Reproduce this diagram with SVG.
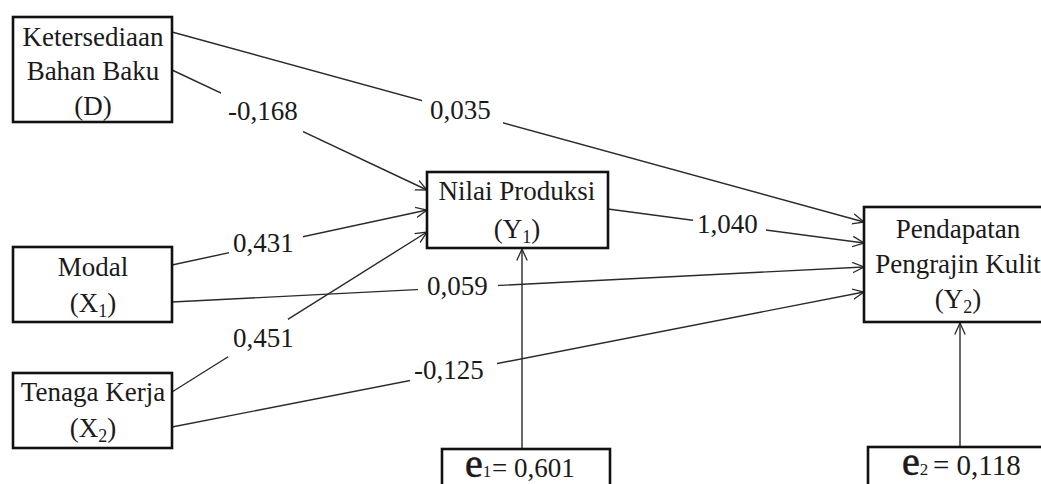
<svg xmlns="http://www.w3.org/2000/svg" width="1041" height="484" viewBox="0 0 1041 484">
<defs>
<style>
.box{fill:#fff;stroke:#111;stroke-width:2.6}
.t{font-family:"Liberation Serif","Times New Roman",serif;font-size:27px;fill:#1a1a1a}
.c{text-anchor:middle}
.sub{font-size:18px}
.ee{font-size:40px;stroke:#1a1a1a;stroke-width:0.6}
.es{font-size:17px}
.ln{stroke:#2a2a2a;stroke-width:1.4;fill:none}
.ar{marker-end:url(#arr)}
.bg{fill:#fff}
</style>
<marker id="arr" viewBox="0 0 12 12" refX="11.5" refY="6" markerWidth="12" markerHeight="12" orient="auto" markerUnits="userSpaceOnUse">
<path d="M0,0.8 L11.5,6 L0,11.2" fill="none" stroke="#2a2a2a" stroke-width="1.3"/>
</marker>
</defs>
<rect width="1041" height="484" fill="#fff"/>
<g id="connectors">
<line class="ln ar" x1="172" y1="32" x2="864" y2="222"/>
<line class="ln ar" x1="172" y1="70" x2="427" y2="190"/>
<line class="ln ar" x1="172" y1="265" x2="427" y2="210"/>
<line class="ln ar" x1="172" y1="392" x2="427" y2="232"/>
<line class="ln ar" x1="172" y1="302" x2="864" y2="267"/>
<line class="ln ar" x1="172" y1="427" x2="864" y2="292"/>
<line class="ln ar" x1="608" y1="209" x2="864" y2="243"/>
<line class="ln ar" x1="522" y1="449" x2="522" y2="249"/>
<line class="ln ar" x1="960" y1="447" x2="960" y2="323"/>
<g id="labels">
<rect class="bg" x="422" y="96" width="81" height="28"/>
<text class="t" x="430" y="119">0,035</text>
<rect class="bg" x="221" y="92" width="82" height="41"/>
<text class="t" x="228" y="120">-0,168</text>
<rect class="bg" x="229" y="231" width="74" height="27"/>
<text class="t" x="233" y="252">0,431</text>
<rect class="bg" x="228" y="319" width="60" height="38"/>
<text class="t" x="233" y="347">0,451</text>
<rect class="bg" x="418" y="276" width="80" height="26"/>
<text class="t" x="427" y="295">0,059</text>
<rect class="bg" x="410" y="358" width="87" height="27"/>
<text class="t" x="414" y="379">-0,125</text>
<rect class="bg" x="693" y="213" width="73" height="26"/>
<text class="t" x="697" y="233">1,040</text>
</g>
</g>
<g id="node-D">
<rect class="box" x="13" y="17" width="159" height="105"/>
<text class="t c" x="93" y="46">Ketersediaan</text>
<text class="t c" x="93" y="80">Bahan Baku</text>
<text class="t c" x="93" y="115">(D)</text>
</g>
<g id="node-X1">
<rect class="box" x="13" y="247" width="159" height="75"/>
<text class="t c" x="93" y="276">Modal</text>
<text class="t c" x="93" y="312">(X<tspan class="sub" dy="5">1</tspan><tspan dy="-5">)</tspan></text>
</g>
<g id="node-X2">
<rect class="box" x="13" y="373" width="159" height="75"/>
<text class="t c" x="93" y="401">Tenaga Kerja</text>
<text class="t c" x="93" y="437">(X<tspan class="sub" dy="5">2</tspan><tspan dy="-5">)</tspan></text>
</g>
<g id="node-Y1">
<rect class="box" x="427" y="172" width="181" height="76"/>
<text class="t c" x="517" y="200">Nilai Produksi</text>
<text class="t c" x="517" y="238">(Y<tspan class="sub" dy="5">1</tspan><tspan dy="-5">)</tspan></text>
</g>
<g id="node-Y2">
<rect class="box" x="864" y="207" width="190" height="115"/>
<text class="t c" x="958" y="238">Pendapatan</text>
<text class="t c" x="958" y="273">Pengrajin Kulit</text>
<text class="t c" x="958" y="308">(Y<tspan class="sub" dy="5">2</tspan><tspan dy="-5">)</tspan></text>
</g>
<g id="node-e1">
<rect class="box" x="442" y="449" width="168" height="50"/>
<text class="t" x="465" y="477"><tspan class="ee">e</tspan><tspan class="es">1</tspan><tspan x="492">= 0,601</tspan></text>
</g>
<g id="node-e2">
<rect class="box" x="868" y="447" width="190" height="50"/>
<text class="t" x="902" y="475"><tspan class="ee">e</tspan><tspan class="es">2</tspan><tspan x="933" style="font-size:29px">= 0,118</tspan></text>
</g>
</svg>
